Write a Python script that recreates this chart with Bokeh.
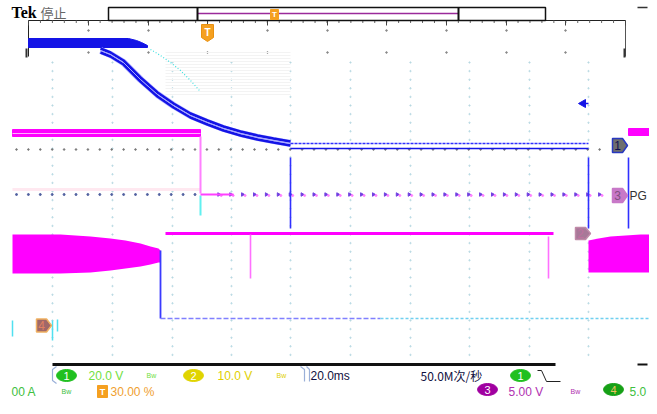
import numpy as np
from bokeh.plotting import figure
from bokeh.models import Range1d, Label
from bokeh.embed import file_html
from bokeh.resources import INLINE
from bokeh.core.properties import value

# ---------------- data (screen divisions expressed in pixel units) ----------------
# Channel 1 (blue) - high plateau then decay, then flat
ch1_plateau_x = [28, 128, 136, 141, 147, 147, 28]
ch1_plateau_y = [38, 38, 40, 42, 45, 47, 47]
ch1_decay_x = [100, 110, 123, 140, 157, 173, 190, 207, 223, 240, 257, 273, 290]
ch1_decay_y = [48, 52, 60, 77, 92, 103, 113, 120, 126, 131, 135, 138, 141]
ch1_flat_x = [290, 588]
ch1_flat_y1 = [143, 143]
ch1_flat_y2 = [148, 148]
ghost_x = [150, 160, 170, 180, 190, 199]
ghost_y = [49, 55, 62, 70, 80, 90]

# Channel 3 (PG, magenta)
ch3_hi_x = [12, 200]
ch3_hi_top = 129
ch3_hi_bot = 136
ch3_drop_y = [136, 193]
ch3_lo_x = [200, 233]
ch3_lo_y = [194, 194]

# Channel 4 (switching node, magenta envelope)
ch4_env_x = [12, 60, 90, 110, 125, 140, 150, 158, 160]
ch4_env_top = [234, 234, 236, 238, 240, 243, 246, 248, 250]
ch4_env_bot = [273, 273, 272, 270, 268, 266, 264, 262, 262]
ch4_right_x = [588, 598, 610, 625, 640, 649]
ch4_right_top = [240, 238, 236, 235, 234, 234]
ch4_right_bot = [272, 272, 272, 272, 272, 272]
ch4_low_y = 318

# Channel 2 (magenta line)
ch2_x = [165, 553]
ch2_y = [233, 233]
ch2_spike_x = [250, 548]

# graticule
div_x_top = [28, 88, 148, 207, 267, 327, 386, 446, 506, 565, 625]
div_x_low = [52, 112, 172, 231, 290, 350, 410, 469, 529, 588]

# status texts
row1_labels = ["20.0 V", "10.0 V", "20.0ms", "50.0M次/秒"]
row2_labels = ["00 A", "30.00 %", "5.00 V", "5.0"]

MAG = "#ff00ff"
BLUE = "#1414e6"

W, H = 649, 398
p = figure(width=W, height=H, x_range=Range1d(0, W), y_range=Range1d(H, 0),
           output_backend="svg", toolbar_location=None, min_border=0)
p.axis.visible = False
p.grid.visible = False
p.outline_line_color = None
p.background_fill_color = "white"

# ---------------- graticule ----------------
p.line([28, 625], [20, 20], line_color="#222222", line_width=1.2)
p.line([28, 28], [20, 56], line_color="#222222", line_width=1)
p.line([625, 625], [20, 56], line_color="#555555", line_width=1)
minor = np.arange(28, 626, 11.94)
p.segment(x0=minor, y0=[20] * len(minor), x1=minor, y1=[22.5] * len(minor), line_color="#666666", line_width=1)
p.segment(x0=div_x_top, y0=[20] * 11, x1=div_x_top, y1=[25] * 11, line_color="#444444", line_width=1)
for xv in div_x_top[1:-1]:
    p.scatter([xv] * 2, [30, 52], size=1.6, color="#888888")
p.segment(x0=[26, 624], y0=[48, 48], x1=[26, 624], y1=[57, 57], line_color="#333333", line_width=2)

# faint lower graticule dots
gy = np.arange(62, 360, 8.6)
for xv in div_x_low:
    p.scatter([xv] * len(gy), gy, size=1.4, color="#a8d0dc", alpha=0.6)
gx = np.arange(16, 600, 11.9)
p.scatter(gx, [149] * len(gx), size=1.6, color="#777777")
p.scatter(gx[gx > 210], [194] * int((gx > 210).sum()), marker="triangle", angle=-np.pi / 2,
          size=3.5, color="#7040e0")
p.scatter(gx[gx > 210] + 2.5, [195] * int((gx > 210).sum()), size=2, color="#ff80ff")
p.scatter(gx[gx < 200], [194] * int((gx < 200).sum()), size=2, color="#5060a0")
p.line([12, 200], [189, 189], line_color="#ffe8f0", line_width=3)

# faint ghost band
for yy in range(52, 96, 3):
    p.line([165, 290], [yy, yy], line_color="#f3f3f3", line_width=1)
p.line(ghost_x, ghost_y, line_color="#40e0e0", line_width=1.2, line_dash="1 2")

# ---------------- Channel 1 ----------------
p.patch(ch1_plateau_x, ch1_plateau_y, fill_color=BLUE, line_color=BLUE)
p.line(ch1_decay_x, [v + 2 for v in ch1_decay_y], line_color="#b8b8ff", line_width=7)
p.line(ch1_decay_x, ch1_decay_y, line_color=BLUE, line_width=2.6)
p.line(ch1_decay_x, [v + 4 for v in ch1_decay_y], line_color=BLUE, line_width=2.6)
p.line(ch1_decay_x, [v + 2 for v in ch1_decay_y], line_color="#a8a8ff", line_width=1)
p.line(ch1_flat_x, ch1_flat_y1, line_color="#3030ff", line_width=1.5, line_dash="3 1")
p.line(ch1_flat_x, ch1_flat_y2, line_color=BLUE, line_width=1.6)
p.segment(x0=[290, 588, 628], y0=[157, 157, 157], x1=[290, 588, 628], y1=[228, 228, 228],
          line_color="#3030ff", line_width=1.6)
p.patch([578, 585, 585], [103, 99, 107], color=BLUE)
p.line([584, 588], [103, 103], line_color=BLUE, line_width=1.5)

# ---------------- Channel 3 (PG) ----------------
p.quad(left=ch3_hi_x[0], right=ch3_hi_x[1], top=ch3_hi_top, bottom=ch3_hi_bot, fill_color=MAG, line_color=MAG)
p.line(ch3_hi_x, [133, 133], line_color="#ffb0ff", line_width=1)
p.quad(left=628, right=649, top=128, bottom=135, fill_color=MAG, line_color=MAG)
p.line([200, 200], ch3_drop_y, line_color="#ff80ff", line_width=2)
p.line([200, 200], [195, 215], line_color="#60f0f0", line_width=2)
p.line(ch3_lo_x, ch3_lo_y, line_color="#ff40ff", line_width=1.8)

# ---------------- Channel 4 ----------------
p.varea(x=ch4_env_x, y1=ch4_env_top, y2=ch4_env_bot, fill_color=MAG)
p.varea(x=ch4_right_x, y1=ch4_right_top, y2=ch4_right_bot, fill_color=MAG)
p.line([160, 160], [250, ch4_low_y], line_color="#3a3aff", line_width=1.8)
p.line([160, 380], [ch4_low_y] * 2, line_color="#8080ff", line_width=1.5, line_dash="5 2")
p.line([380, 649], [ch4_low_y] * 2, line_color="#70d0f0", line_width=1.5, line_dash="3 2")

# ---------------- Channel 2 ----------------
p.line(ch2_x, ch2_y, line_color=MAG, line_width=3)
p.segment(x0=ch2_spike_x, y0=[234, 236], x1=ch2_spike_x, y1=[278, 278], line_color="#ff70ff", line_width=1.6)

# misc cyan marks
p.segment(x0=[12, 52, 57], y0=[320, 320, 319], x1=[12, 52, 57], y1=[336, 340, 331], line_color="#50e0f0", line_width=1.5)

# ---------------- top record bar ----------------
p.quad(left=108, right=545, top=7, bottom=20, fill_color="white", line_color="#111111", line_width=1.5)
p.line([197, 458], [13, 13], line_color="#9a2a9a", line_width=1.6)
p.segment(x0=[197, 458], y0=[7, 7], x1=[197, 458], y1=[20, 20], line_color="#111111", line_width=2)
p.quad(left=270, right=278, top=9, bottom=19, fill_color="#f5a020", line_color="#f5a020")
p.patch([201, 213, 213, 207, 201], [24, 24, 37, 41, 37], fill_color="#f5a020", line_color="#e89010")
p.line([637, 647], [7, 7], line_color="#333333", line_width=1.5)

FONT = "Liberation Sans"
def txt(x, y, s, color, size, bold=False, font=FONT, align="left"):
    p.add_layout(Label(x=x, y=y, text=s, text_color=color, text_font_size=f"{size}px",
                       text_font=font, text_font_style="bold" if bold else "normal",
                       text_baseline="middle", text_align=align))

txt(207, 32, "T", "white", 10, bold=True, align="center")
txt(274, 14, "T", "white", 8, bold=True, align="center")
txt(11, 12, "Tek", "#000000", 16, bold=True, font="Liberation Serif")
txt(40, 12, "停止", "#666666", 13, font="Noto Sans CJK SC")

# ---------------- channel markers ----------------
def marker(x, y, fill, line, label, lcolor, w=15, h=14):
    xs = [x, x + w - 5, x + w, x + w - 5, x]
    ys = [y - h / 2, y - h / 2, y, y + h / 2, y + h / 2]
    p.patch(xs, ys, fill_color=fill, line_color=line, line_width=1.5)
    txt(x + 5, y, label, lcolor, 12, align="center")

marker(612, 145, "#6e6e6e", "#2838c0", "1", "#101050")
marker(612, 195, "#c878c8", "#c878c8", "3", "#805080")
txt(629, 195, "PG", "#333333", 12)
marker(575, 233, "#a87898", "#c08aa8", "2", "#c070a0", w=15, h=12)
marker(36, 325, "#a06868", "#f0b060", "4", "#e08060", w=15, h=13)

# ---------------- status bar ----------------
p.line([52, 555], [364, 364], line_color="#111111", line_width=3)
p.line([637, 647], [364, 364], line_color="#111111", line_width=2)
p.line([56, 52, 52, 56], [366, 369, 380, 383], line_color="#9ab0d8", line_width=1.2)
p.line([300, 304, 304], [366, 369, 381], line_color="#9ab0d8", line_width=1.2)
p.line([306, 309, 309], [366, 369, 381], line_color="#9ab0d8", line_width=1.2)

def badge(x, y, fill, label, lcolor="white"):
    p.ellipse(x=x, y=y, width=20, height=12, fill_color=fill, line_color=fill)
    txt(x, y, label, lcolor, 11, align="center")

badge(66, 375, "#20c020", "1")
badge(193, 375, "#e0d400", "2")
badge(520, 375, "#20c020", "1")
badge(487, 389, "#a000a0", "3")
badge(613, 389, "#16a016", "4", "#f0c060")

txt(88, 375, row1_labels[0], "#70e040", 12)
txt(146, 375, "Bw", "#70e040", 7)
txt(217, 375, row1_labels[1], "#e0d000", 12)
txt(276, 375, "Bw", "#e0d000", 7)
txt(310, 375, row1_labels[2], "#101040", 12)
txt(420, 375, row1_labels[3], "#101040", 12, font="Noto Sans CJK SC")
p.line([537, 541, 546, 560], [370, 370, 381, 381], line_color="#222222", line_width=1)

txt(11, 391, row2_labels[0], "#40c040", 12)
txt(61, 391, "Bw", "#40c040", 7)
p.quad(left=97, right=107, top=385, bottom=397, fill_color="#f5a020", line_color="#f5a020")
txt(102, 391, "T", "white", 9, bold=True, align="center")
txt(110, 391, row2_labels[1], "#f0a030", 12)
txt(508, 391, row2_labels[2], "#b030b0", 12)
txt(570, 391, "Bw", "#b030b0", 7)
txt(629, 391, row2_labels[3], "#40c040", 12)

open("out.html", "w").write(file_html(p, INLINE))
